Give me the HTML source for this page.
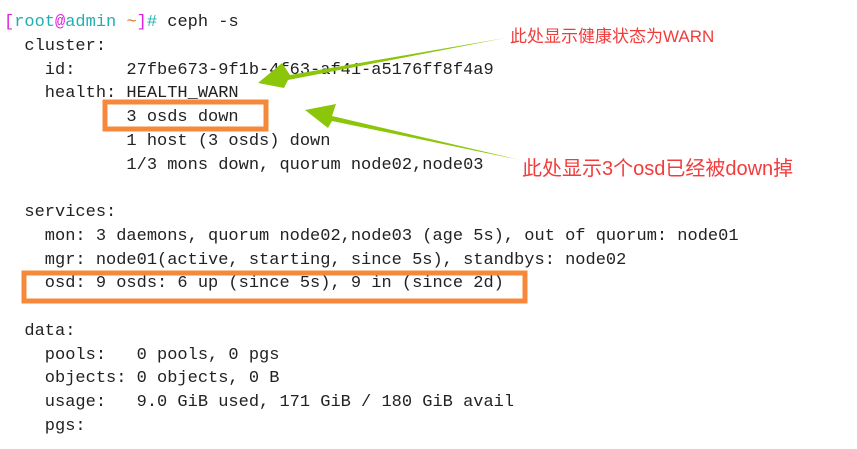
<!DOCTYPE html>
<html><head><meta charset="utf-8"><style>
html,body{margin:0;padding:0;background:#fff;width:857px;height:449px;overflow:hidden}
pre{position:absolute;left:4px;top:11px;margin:0;font-family:"Liberation Mono",monospace;font-size:17px;line-height:23.75px;color:#222}
.m{color:#e020e0}.c{color:#20b0b0}.o{color:#e07020}
.lab{position:absolute;color:#f23c3c;font-family:"Liberation Sans","Noto Sans CJK SC",sans-serif;white-space:nowrap}
</style></head><body>
<pre><span class="m">[</span><span class="c">root</span><span class="m">@</span><span class="c">admin</span> <span class="o">~</span><span class="m">]</span><span class="c">#</span> ceph -s
  cluster:
    id:     27fbe673-9f1b-4f63-af41-a5176ff8f4a9
    health: HEALTH_WARN
            3 osds down
            1 host (3 osds) down
            1/3 mons down, quorum node02,node03

  services:
    mon: 3 daemons, quorum node02,node03 (age 5s), out of quorum: node01
    mgr: node01(active, starting, since 5s), standbys: node02
    osd: 9 osds: 6 up (since 5s), 9 in (since 2d)

  data:
    pools:   0 pools, 0 pgs
    objects: 0 objects, 0 B
    usage:   9.0 GiB used, 171 GiB / 180 GiB avail
    pgs:
</pre>
<svg width="857" height="449" style="position:absolute;left:0;top:0">
<rect x="105" y="102" width="161" height="27" fill="none" stroke="#f5883a" stroke-width="5"/>
<rect x="24" y="273" width="501" height="28" fill="none" stroke="#f5883a" stroke-width="5"/>
<polygon points="505,38 290,75 282,63 258,83 284,88 288,80" fill="#8cc60a"/>
<polygon points="520,160 332,116 336,104 305,110 328,128 332,121" fill="#8cc60a"/>
</svg>
<div class="lab" style="left:510px;top:22px;font-size:17px">此处显示健康状态为WARN</div>
<div class="lab" style="left:522px;top:152px;font-size:20px">此处显示3个osd已经被down掉</div>
</body></html>
